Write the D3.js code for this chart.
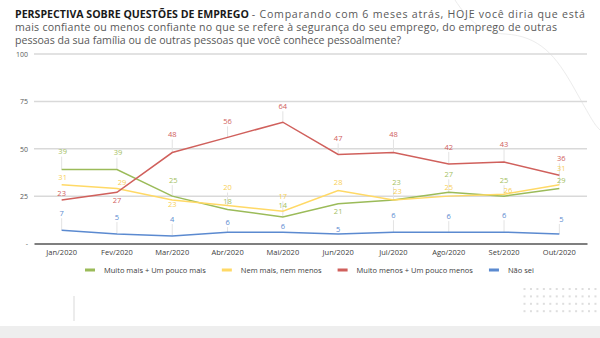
<!DOCTYPE html>
<html>
<head>
<meta charset="utf-8">
<script src="https://cdn.jsdelivr.net/npm/d3@7/dist/d3.min.js"></script>
<style>
  html, body { margin: 0; padding: 0; background: #fff; }
  svg { display: block; }
</style>
</head>
<body>
<svg id="chart" width="600" height="338"></svg>
<script>
// Survey months
const months = ["Jan/2020", "Fev/2020", "Mar/2020", "Abr/2020", "Mai/2020",
                "Jun/2020", "Jul/2020", "Ago/2020", "Set/2020", "Out/2020"];

// Share of respondents (%) per answer
const maisConfiante   = [39, 39, 25, 18, 14, 21, 23, 27, 25, 29];
const nemMaisNemMenos = [31, 29, 23, 20, 17, 28, 23, 25, 26, 31];
const menosConfiante  = [23, 27, 48, 56, 64, 47, 48, 42, 43, 36];
const naoSei          = [7, 5, 4, 6, 6, 5, 6, 6, 6, 5];

const seriesNames = ["Muito mais + Um pouco mais", "Nem mais, nem menos",
                     "Muito menos + Um pouco menos", "Não sei"];

const yTicks = [0, 25, 50, 75, 100];

// Data-label placement (pixels from the point) so overlapping labels stay readable
const labelDy = [
  [-18, -17, -16, -8, -12, 8, -18, -18, -16, -8],
  [-7, -6, 4, -18, -15, -8, -9, -9, -4, -16],
  [-7, 8, -18, -16, -16, -16, -18, -17, -18, -17],
  [-17, -17, -17, -10, -6, -5, -17, -16, -17, -15]
];
const labelDx = [
  [1, 1, 1, 0, 0, 0, 3, 0, 0, 2],
  [1, 5, 0, 0, 0, 0, 4, 0, 4, 2],
  [0, 0, 0, 0, 0, 0, 0, 0, 0, 2],
  [0, 0, 0, 0, 0, 0, 0, 0, 0, 2]
];

const colors = ["#9bbb59", "#ffd966", "#d0605c", "#5b8ad0"];
const labelColors = ["#a3c062", "#f8cf55", "#d0605c", "#5b8ad0"];

const allSeries = [maisConfiante, nemMaisNemMenos, menosConfiante, naoSei];

const svg = d3.select("#chart");
const font = "'Open Sans', 'DejaVu Sans', sans-serif";

// Decorative background shapes
svg.append("rect").attr("x", 0).attr("y", 326).attr("width", 600).attr("height", 12).attr("fill", "#eeeeee");
svg.append("path")
  .attr("d", "M455,0 C468,20 482,33 505,34 C540,36 556,56 574,88 S594,124 600,130")
  .attr("fill", "none").attr("stroke", "#ececec").attr("stroke-width", 1);
svg.append("line").attr("x1", 74).attr("x2", 74).attr("y1", 296).attr("y2", 321)
  .attr("stroke", "#d9d9d9").attr("stroke-width", 1);
const dotG = svg.append("g").attr("fill", "#dedede");
d3.range(4).forEach(r => d3.range(12).forEach(c => {
  dotG.append("rect").attr("x", 523.5 + c * 6.45).attr("y", 288 + r * 7.4).attr("width", 2).attr("height", 2);
}));

// Heading: bold lead-in, then the question stretched across the page width
const headSize = 10.6;
const bold = svg.append("text").attr("x", 15).attr("y", 18)
  .attr("font-family", font).attr("font-size", headSize).attr("font-weight", 700).attr("fill", "#1a1a1a")
  .text("PERSPECTIVA SOBRE QUESTÕES DE EMPREGO");
const boldEnd = 15 + bold.node().getComputedTextLength() + 3;
const headLines = [
  { x: boldEnd, y: 18, end: 585, t: "- Comparando com 6 meses atrás, HOJE você diria que está" },
  { x: 15, y: 31, end: 557, t: "mais confiante ou menos confiante no que se refere à segurança do seu emprego, do emprego de outras" },
  { x: 15, y: 44, end: 401, t: "pessoas da sua família ou de outras pessoas que você conhece pessoalmente?" }
];
headLines.forEach(h => {
  svg.append("text").attr("x", h.x).attr("y", h.y)
    .attr("font-family", font).attr("font-size", headSize).attr("fill", "#595959")
    .attr("textLength", h.end - h.x).attr("lengthAdjust", "spacing")
    .text(h.t);
});

// Scales
const x = d3.scaleBand().domain(months).range([34, 587]).padding(0);
const y = d3.scaleLinear().domain([0, 100]).range([243.5, 54]);
const cx = m => x(m) + x.bandwidth() / 2;

// Gridlines
svg.append("g").selectAll("line").data(yTicks.filter(t => t > 0)).join("line")
  .attr("x1", 34).attr("x2", 587)
  .attr("y1", d => y(d)).attr("y2", d => y(d))
  .attr("stroke", "#d9d9d9").attr("stroke-width", 1.5);

// Y axis labels
const yAxis = svg.append("g").attr("transform", "translate(34,0)")
  .call(d3.axisLeft(y).tickValues(yTicks).tickSize(0).tickPadding(6)
    .tickFormat(d => d === 0 ? "-" : d));
yAxis.select(".domain").remove();
yAxis.selectAll("text").attr("font-family", font).attr("font-size", 7).attr("fill", "#595959");

// X axis
const xAxis = svg.append("g").attr("transform", `translate(0,${y(0)})`)
  .call(d3.axisBottom(x).tickSize(0).tickPadding(6));
xAxis.select(".domain").attr("stroke", "#7f7f7f").attr("stroke-width", 2);
xAxis.selectAll("text").attr("font-family", font).attr("font-size", 7.5).attr("fill", "#404040");

// Leader lines from labels to points
const leaders = svg.append("g").attr("stroke", "#e3e3e3").attr("stroke-width", 1);
allSeries.forEach((vals, s) => {
  vals.forEach((v, i) => {
    const dy = labelDy[s][i];
    if (Math.abs(dy) < 10) return;
    const px = cx(months[i]);
    const py = y(v);
    const ly = py + dy;
    leaders.append("line").attr("x1", px).attr("x2", px)
      .attr("y1", dy < 0 ? ly + 5 : ly - 5).attr("y2", py);
  });
});

// Lines
const line = d3.line().x((d, i) => cx(months[i])).y(d => y(d));
allSeries.forEach((vals, s) => {
  svg.append("path").datum(vals).attr("d", line)
    .attr("fill", "none").attr("stroke", colors[s]).attr("stroke-width", 1.5);
});

// Data labels
allSeries.forEach((vals, s) => {
  svg.append("g").selectAll("text").data(vals).join("text")
    .attr("x", (d, i) => cx(months[i]) + labelDx[s][i])
    .attr("y", (d, i) => y(d) + labelDy[s][i])
    .attr("dy", "0.35em")
    .attr("text-anchor", "middle")
    .attr("font-family", font).attr("font-size", 7.5)
    .attr("fill", labelColors[s])
    .text(d => d);
});

// Legend
const legend = svg.append("g").attr("transform", "translate(85,270)");
let lx = 0;
seriesNames.forEach((name, s) => {
  legend.append("rect").attr("x", lx).attr("y", -1.5).attr("width", 10).attr("height", 3).attr("fill", colors[s]);
  const t = legend.append("text").attr("x", lx + 19).attr("y", 0).attr("dy", "0.35em")
    .attr("font-family", font).attr("font-size", 7.5).attr("fill", "#404040").text(name);
  lx += 19 + t.node().getComputedTextLength() + 16;
});
</script>
</body>
</html>
